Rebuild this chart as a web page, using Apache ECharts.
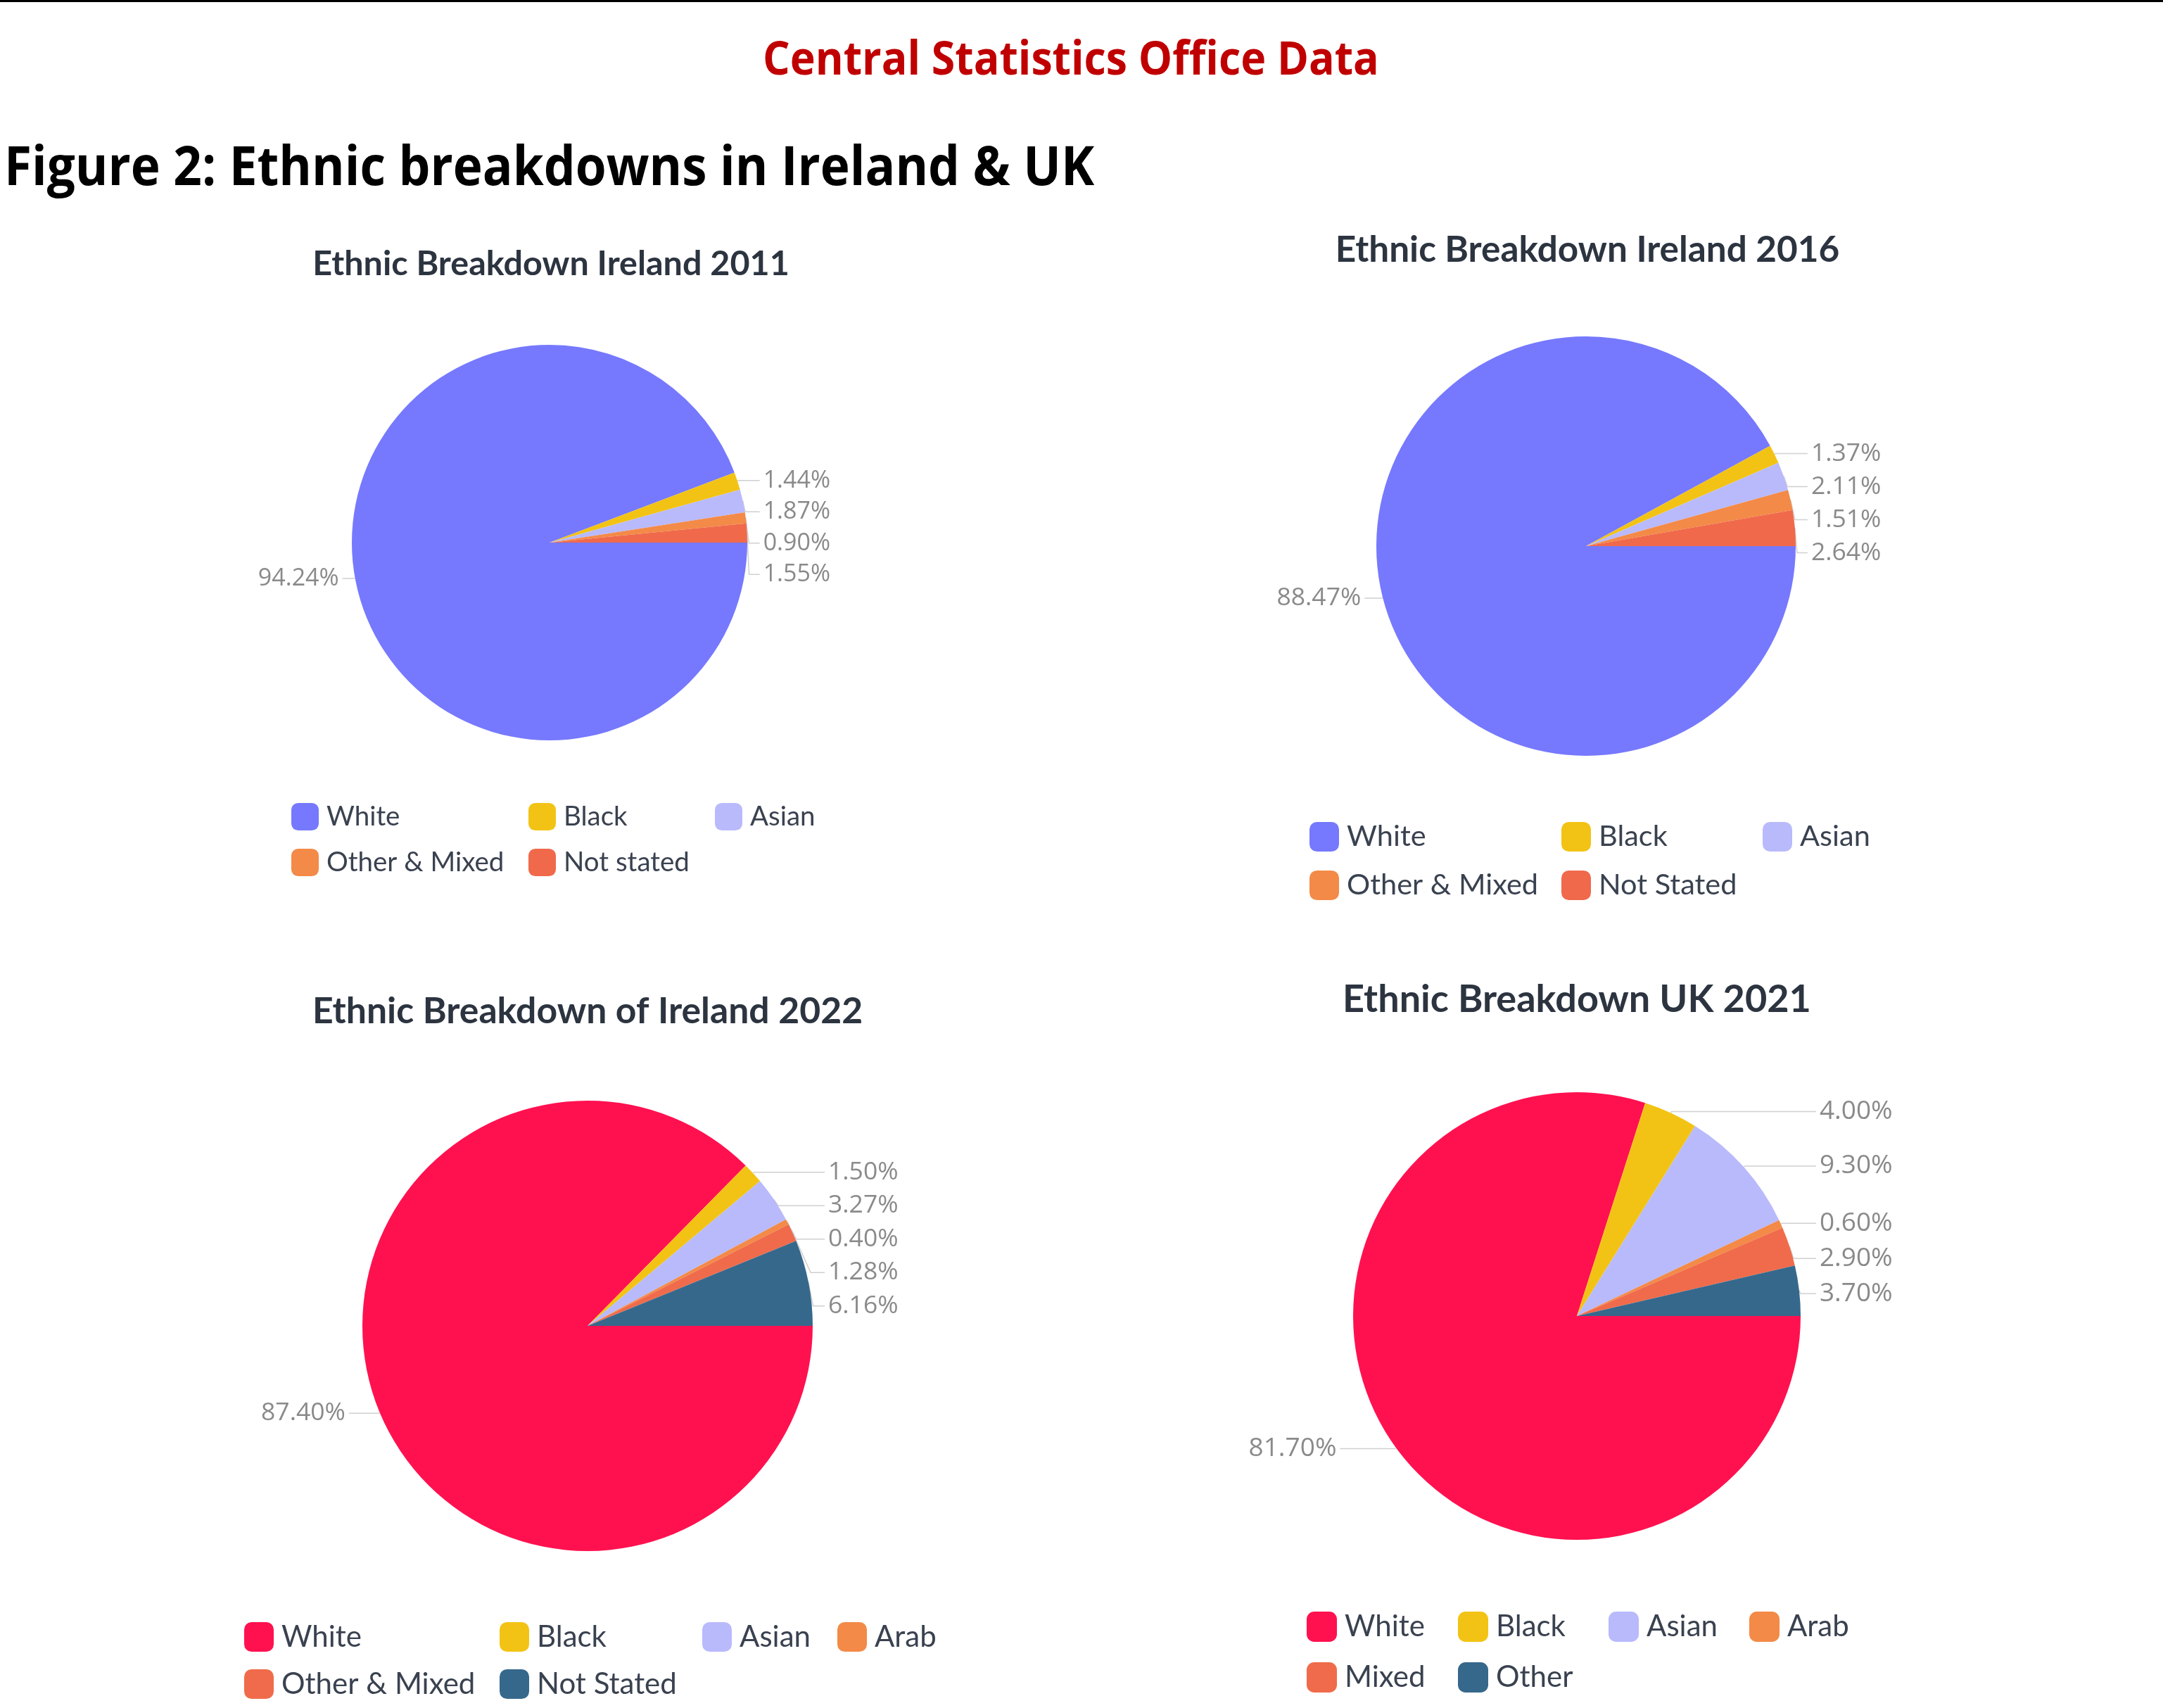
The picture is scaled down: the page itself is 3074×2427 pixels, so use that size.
<!DOCTYPE html>
<html>
<head>
<meta charset="utf-8">
<title>Figure 2: Ethnic breakdowns in Ireland & UK</title>
<script src="https://cdn.jsdelivr.net/npm/echarts@6/dist/echarts.min.js"></script>
<style>
  body { margin: 0; background: #fff; }
  #page { position: relative; width: 3074px; height: 2427px; overflow: hidden; background: #fff; }
  .rule { position: absolute; left: 0; top: 0; width: 3074px; height: 3px; background: #000; }
  .head { position: absolute; white-space: nowrap; font-family: 'Open Sans', sans-serif; font-weight: bold; line-height: 1; transform-origin: 0 50%; }
  #csoTitle { left: 1084px; top: 47px; font-size: 67px; color: #c00000; }
  #figTitle { left: 6px; top: 195px; font-size: 77px; color: #000; }
  .chart { position: absolute; width: 1537px; }
  #chart2011 { left: 0; top: 300px; height: 1040px; }
  #chart2016 { left: 1537px; top: 300px; height: 1040px; }
  #chart2022 { left: 0; top: 1340px; height: 1087px; }
  #chartUK { left: 1537px; top: 1340px; height: 1087px; }
</style>
</head>
<body>
<div id="page">
  <div class="rule"></div>
  <div class="head" id="csoTitle" data-width="876">Central Statistics Office Data</div>
  <div class="head" id="figTitle" data-width="1549">Figure 2: Ethnic breakdowns in Ireland &amp; UK</div>
  <div class="chart" id="chart2011"></div>
  <div class="chart" id="chart2016"></div>
  <div class="chart" id="chart2022"></div>
  <div class="chart" id="chartUK"></div>
</div>
<script>
// 数据：各年份的民族构成（百分比）
const names2011 = ['White', 'Black', 'Asian', 'Other & Mixed', 'Not stated']
const values2011 = [94.24, 1.44, 1.87, 0.90, 1.55]

const names2016 = ['White', 'Black', 'Asian', 'Other & Mixed', 'Not Stated']
const values2016 = [88.47, 1.37, 2.11, 1.51, 2.64]

const names2022 = ['White', 'Black', 'Asian', 'Arab', 'Other & Mixed', 'Not Stated']
const values2022 = [87.40, 1.50, 3.27, 0.40, 1.28, 6.16]

const namesUK = ['White', 'Black', 'Asian', 'Arab', 'Mixed', 'Other']
const valuesUK = [81.70, 4.00, 9.30, 0.60, 2.90, 3.70]

// 颜色
const blueColors = ['#7679fd', '#f2c314', '#b9bafc', '#f38a47', '#f0694b']
const redColors = ['#ff1150', '#f2c314', '#b9bafc', '#f38a47', '#f06b4b', '#36688c']

// 每个图表的布局
// line: [引导线第一段, 第二段, 左侧(White)标签的第二段]
const panels = [
  {
    id: 'chart2011', title: 'Ethnic Breakdown Ireland 2011', names: names2011, values: values2011, colors: blueColors,
    titleX: 783, titleY: 75, titleSize: 48.5,
    cx: 781, cy: 471, r: 281, labelSize: 34, labelHeight: 42.5, line: [2, 16, 16],
    cols: [[0, 3], [1, 4], [2]], colLeft: [414, 751, 1016], legendTop: 841, icon: 39, rowGap: 26, legendSize: 38.5
  },
  {
    id: 'chart2016', title: 'Ethnic Breakdown Ireland 2016', names: names2016, values: values2016, colors: blueColors,
    titleX: 719, titleY: 55, titleSize: 51.3,
    cx: 717, cy: 476, r: 298, labelSize: 35.5, labelHeight: 45, line: [2, 16, 24],
    cols: [[0, 3], [1, 4], [2]], colLeft: [324, 682, 968], legendTop: 868, icon: 42, rowGap: 27, legendSize: 41.5
  },
  {
    id: 'chart2022', title: 'Ethnic Breakdown of Ireland 2022', names: names2022, values: values2022, colors: redColors,
    titleX: 835, titleY: 97, titleSize: 51.7,
    cx: 835, cy: 544, r: 320, labelSize: 35.5, labelHeight: 45.5, line: [2, 21, 42],
    cols: [[0, 4], [1, 5], [2], [3]], colLeft: [347, 710, 998, 1190], legendTop: 965, icon: 42, rowGap: 25, legendSize: 42
  },
  {
    id: 'chartUK', title: 'Ethnic Breakdown UK 2021', names: namesUK, values: valuesUK, colors: redColors,
    titleX: 704, titleY: 81, titleSize: 54,
    cx: 704, cy: 530, r: 318, labelSize: 37, labelHeight: 48, line: [2, 22, 78],
    cols: [[0, 4], [1, 5], [2], [3]], colLeft: [320, 535, 749, 949], legendTop: 950, icon: 43, rowGap: 29, legendSize: 42
  }
]

function buildOption (p) {
  const pieData = p.names.map((name, i) => {
    const item = { name: name, value: p.values[i], itemStyle: { color: p.colors[i] } }
    // 第一块（White）的标签在左侧
    if (i === 0) item.labelLine = { length2: p.line[2] }
    return item
  })
  // 图例按列排布
  const legends = p.cols.map((col, k) => {
    return {
      orient: 'vertical',
      left: p.colLeft[k],
      top: p.legendTop,
      padding: 0,
      itemWidth: p.icon,
      itemHeight: p.icon,
      itemGap: p.rowGap,
      icon: 'roundRect',
      selectedMode: false,
      data: col.map(i => p.names[i]),
      textStyle: {
        fontFamily: 'Lato',
        fontSize: p.legendSize,
        lineHeight: p.icon,
        color: '#3a4250',
        padding: [0, 0, 0, 6]
      }
    }
  })
  return {
    animation: false,
    backgroundColor: '#fff',
    title: {
      text: p.title,
      left: p.titleX,
      top: p.titleY,
      textAlign: 'center',
      textVerticalAlign: 'middle',
      padding: 0,
      textStyle: {
        fontFamily: 'Lato',
        fontWeight: 'bold',
        fontSize: p.titleSize,
        color: '#2c3440'
      }
    },
    legend: legends,
    series: [
      {
        type: 'pie',
        center: [p.cx, p.cy],
        radius: p.r,
        startAngle: 0,
        clockwise: true,
        data: pieData,
        itemStyle: { borderWidth: 0 },
        label: {
          show: true,
          // 保留两位小数
          formatter: (item) => item.value.toFixed(2) + '%',
          fontFamily: 'Open Sans',
          fontSize: p.labelSize,
          lineHeight: p.labelHeight,
          color: '#8a8a8a',
          alignTo: 'labelLine'
        },
        labelLine: {
          show: true,
          length: p.line[0],
          length2: p.line[1],
          smooth: false,
          lineStyle: { color: '#d0d0d0', width: 1.5 }
        },
        emphasis: { disabled: true }
      }
    ]
  }
}

panels.forEach(p => {
  const chart = echarts.init(document.getElementById(p.id), null, { renderer: 'canvas' })
  chart.setOption(buildOption(p))
})

// 标题文字横向压缩到参考宽度
function fitHeads () {
  document.querySelectorAll('.head').forEach(el => {
    el.style.transform = 'none'
    const target = +el.dataset.width
    el.style.transform = 'scaleX(' + (target / el.offsetWidth) + ')'
  })
}
fitHeads()
if (document.fonts) document.fonts.ready.then(fitHeads)
</script>
</body>
</html>
